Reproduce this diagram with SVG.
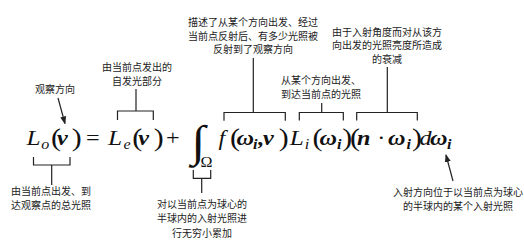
<svg xmlns="http://www.w3.org/2000/svg" width="524" height="245" viewBox="0 0 524 245">
<style>
.cn{font-family:"Noto Sans CJK SC","Noto Sans",sans-serif;font-size:10px;fill:#222;text-anchor:middle}
.m{font-family:"Liberation Serif","Times New Roman",serif;fill:#111;font-size:21px}
.it{font-style:italic}
.bi{font-style:italic;font-weight:bold}
.L{font-style:italic;font-size:22px}
.sub{font-style:italic;font-size:14px}
.subb{font-style:italic;font-weight:bold;font-size:14px}
.p{font-size:26px;letter-spacing:-3.7px}
.ln{fill:none;stroke:#222;stroke-width:1.2}
</style>
<defs>
<marker id="ah" markerWidth="8" markerHeight="8" refX="7" refY="4" orient="auto" markerUnits="userSpaceOnUse">
<path d="M0,1 L8,4 L0,7 Z" fill="#222"/>
</marker>
</defs>
<rect width="524" height="245" fill="#fff"/>

<g id="formula" transform="scale(1.15,1)">
<text class="m"><tspan class="L" x="23" y="145">L</tspan><tspan class="sub" x="35.8" y="149">o</tspan><tspan class="p" x="44.3" y="146">(</tspan><tspan class="bi" x="49.6" y="145">v</tspan><tspan class="p" x="62.5" y="146">)</tspan><tspan x="74.8" y="145">=</tspan><tspan class="L" x="94" y="145">L</tspan><tspan class="sub" x="107.3" y="149">e</tspan><tspan class="p" x="115" y="146">(</tspan><tspan class="bi" x="120.3" y="145">v</tspan><tspan class="p" x="133.8" y="146">)</tspan><tspan x="144.3" y="145">+</tspan><tspan x="166.5" y="156" font-size="44" letter-spacing="-8">∫</tspan><tspan x="174.3" y="167" font-size="14">Ω</tspan><tspan class="it" x="190" y="145">f</tspan><tspan class="p" x="200" y="146">(</tspan><tspan class="bi" x="205.6" y="145">ω</tspan><tspan class="subb" x="220" y="149">i</tspan><tspan class="bi" x="224.5" y="145" letter-spacing="-2">,</tspan><tspan class="bi" x="228.7" y="145">v</tspan><tspan class="p" x="242.5" y="146">)</tspan><tspan class="L" x="252" y="145">L</tspan><tspan class="sub" x="265" y="149">i</tspan><tspan class="p" x="271.7" y="146">(</tspan><tspan class="bi" x="277.8" y="145">ω</tspan><tspan class="subb" x="293" y="149">i</tspan><tspan class="p" x="297.7" y="146">)</tspan><tspan class="p" x="304.3" y="146">(</tspan><tspan class="bi" x="310.4" y="145">n</tspan><tspan x="328" y="145">·</tspan><tspan class="bi" x="337.4" y="145">ω</tspan><tspan class="subb" x="353.5" y="149">i</tspan><tspan class="p" x="358.2" y="146">)</tspan><tspan class="it" x="364.8" y="145" letter-spacing="-2">d</tspan><tspan class="bi" x="373.9" y="145">ω</tspan><tspan class="subb" x="388.7" y="149">i</tspan></text>
</g>

<g id="connectors">
<path class="ln" d="M33.5,157 V165 H70 V157 M51.7,165 V185"/>
<path class="ln" d="M117.5,120 V111 H153.3 V120 M136,111 V89"/>
<path class="ln" d="M193.3,170 V178.3 H210.7 V170 M201.7,178.3 V193"/>
<path class="ln" d="M224,120.7 V112.5 H285.3 V120.7 M253.3,112.5 V58"/>
<path class="ln" d="M299.3,120.5 V112.5 H343.3 V120.5 M321.7,112.5 V103"/>
<path class="ln" d="M356.7,120.5 V112.5 H417.3 V120.5 M387.3,112.5 V67"/>
<path class="ln" d="M58,98 L65,123.5" marker-end="url(#ah)"/>
<path class="ln" d="M453,181 L446,155" marker-end="url(#ah)"/>
</g>

<g id="n-view"><text class="cn" x="55" y="93">观察方向</text></g>
<g id="n-emit"><text class="cn" x="137" y="71">由当前点发出的</text><text class="cn" x="137" y="84.5">自发光部分</text></g>
<g id="n-brdf"><text class="cn" x="253" y="26">描述了从某个方向出发、经过</text><text class="cn" x="253" y="39.5">当前点反射后、有多少光照被</text><text class="cn" x="253" y="53">反射到了观察方向</text></g>
<g id="n-incident"><text class="cn" x="321" y="84">从某个方向出发、</text><text class="cn" x="321" y="98">到达当前点的光照</text></g>
<g id="n-cos"><text class="cn" x="387" y="35.5">由于入射角度而对从该方</text><text class="cn" x="387" y="49">向出发的光照亮度所造成</text><text class="cn" x="387" y="62.5">的衰减</text></g>
<g id="n-out"><text class="cn" x="51" y="195">由当前点出发、到</text><text class="cn" x="51" y="209">达观察点的总光照</text></g>
<g id="n-int"><text class="cn" x="202" y="208">对以当前点为球心的</text><text class="cn" x="202" y="222">半球内的入射光照进</text><text class="cn" x="202" y="236.5">行无穷小累加</text></g>
<g id="n-dw"><text class="cn" x="458" y="195.5">入射方向位于以当前点为球心</text><text class="cn" x="458" y="209.5">的半球内的某个入射光照</text></g>
</svg>
